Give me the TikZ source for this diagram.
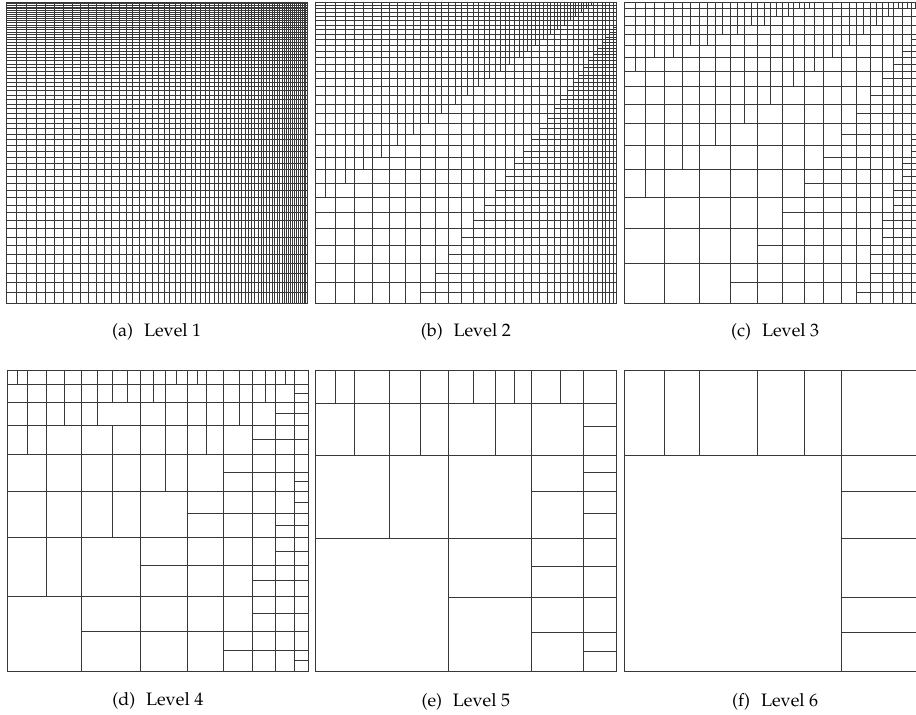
\documentclass[tikz,border=0pt]{standalone}
\usepackage[T1]{fontenc}
\usepackage{mathpazo}
\usetikzlibrary{positioning}

% graded 64x64 base mesh, cells shrink towards the top right corner
\newcommand{\rgrow}{0.97108}
\newcommand{\pside}{301}
\foreach \i in {0,...,64}{%
  \pgfmathsetmacro{\gval}{\pside*(1-\rgrow^\i)/(1-\rgrow^64)}%
  \expandafter\xdef\csname gx\i\endcsname{\gval}}
\newcommand{\mx}[1]{\csname gx#1\endcsname}
\newcommand{\vseg}[3]{\draw[mesh] (\mx{#1},\mx{#2}) -- (\mx{#1},\mx{#3});}
\newcommand{\hseg}[3]{\draw[mesh] (\mx{#2},\mx{#1}) -- (\mx{#3},\mx{#1});}
% full lines every #1 base cells
\newcommand{\blockgrid}[1]{\foreach \k in {0,#1,...,64}{\vseg{\k}{0}{64}\hseg{\k}{0}{64}}}
% splits inside blocks of size #1: vertical ones per block row, horizontal ones per block column
\newcommand{\vsplits}[2]{\foreach \J/\lst in {#2}{%
  \pgfmathtruncatemacro{\ja}{#1*\J}\pgfmathtruncatemacro{\jb}{#1*\J+#1}%
  \foreach \i in \lst {\vseg{\i}{\ja}{\jb}}}}
\newcommand{\hsplits}[2]{\foreach \I/\lst in {#2}{%
  \pgfmathtruncatemacro{\ia}{#1*\I}\pgfmathtruncatemacro{\ib}{#1*\I+#1}%
  \foreach \j in \lst {\hseg{\j}{\ia}{\ib}}}}

\begin{document}
\begin{tikzpicture}[
    x=1pt, y=1pt,
    mesh/.style={line width=0.75pt, draw=black!78, line cap=rect},
    captxt/.style={font=\fontsize{18}{22}\selectfont, inner sep=0pt, anchor=base}
]
    \path[use as bounding box, clip] (0,0) rectangle (916,715);

    % (a) level 1: the base mesh
    \begin{scope}[shift={(6.2,412)}]
        \blockgrid{1}
        \coordinate (pa) at (\pside/2,0);
    \end{scope}

    % (b) level 2
    \begin{scope}[shift={(315.3,412)}]
        \blockgrid{2}
        \foreach \n in {0,...,25}{%
            \pgfmathtruncatemacro{\i}{2*\n+1}\pgfmathtruncatemacro{\j}{2*\n+12}%
            \vseg{\i}{\j}{64}\hseg{\i}{\j}{64}}
        \coordinate (pb) at (\pside/2,0);
    \end{scope}

    % (c) level 3
    \begin{scope}[shift={(624.7,412)}]
        \blockgrid{4}
        \foreach \n in {0,...,14}{%
            \pgfmathtruncatemacro{\i}{4*\n+2}\pgfmathtruncatemacro{\j}{min(4*\n+12,60)}%
            \vseg{\i}{\j}{64}\hseg{\i}{\j}{64}}
        \foreach \n in {0,...,6}{%
            \pgfmathtruncatemacro{\i}{4*\n+1}\pgfmathtruncatemacro{\j}{4*\n+36}%
            \vseg{\i}{\j}{64}\hseg{\i}{\j}{64}}
        \foreach \n in {0,...,5}{%
            \pgfmathtruncatemacro{\i}{4*\n+3}\pgfmathtruncatemacro{\j}{4*\n+40}%
            \vseg{\i}{\j}{64}\hseg{\i}{\j}{64}}
        \coordinate (pc) at (\pside/2,0);
    \end{scope}

    % (d) level 4
    \begin{scope}[shift={(7.3,44)}]
        \blockgrid{8}
        \vsplits{8}{7/{1,2,4,6,10,12,14,18,20,22,26,28,36,44,52},
                    6/{2,4,6,10,12,14,18,20,28,36,44},
                    5/{2,4,6,10,20,28,36}, 4/{2,4,12,20,28},
                    3/{4,12,20}, 2/{4,12}, 1/{4}}
        \hsplits{8}{7/{1,2,4,6,10,12,14,18,20,22,26,28,36,44,52},
                    6/{2,4,6,10,12,14,18,20,28,36,44},
                    5/{2,4,6,10,12,20,28,36}, 4/{2,4,12,20,28},
                    3/{4,12,20}, 2/{4,12}, 1/{4}}
        \coordinate (pd) at (\pside/2,0);
    \end{scope}

    % (e) level 5
    \begin{scope}[shift={(315.3,43.5)}]
        \blockgrid{16}
        \vsplits{16}{3/{2,4,8,12,20,24,28,40}, 2/{4,8,12,24}, 1/{8}}
        \hsplits{16}{3/{2,4,8,12,20,24,28,40}, 2/{4,8,12,24}, 1/{8}}
        \coordinate (pe) at (\pside/2,0);
    \end{scope}

    % (f) level 6
    \begin{scope}[shift={(624.7,43.5)}]
        \blockgrid{32}
        \vsplits{32}{1/{4,8,16,24}}
        \hsplits{32}{1/{4,8,16,24}}
        \coordinate (pf) at (\pside/2,0);
    \end{scope}

    % captions
    \node[captxt, yshift=-34pt] (capa) at (pa) {(a)\hskip.6em Level 1};
    \node[captxt, yshift=-34pt] (capb) at (pb) {(b)\hskip.6em Level 2};
    \node[captxt, yshift=-34pt] (capc) at (pc) {(c)\hskip.6em Level 3};
    \node[captxt, yshift=-35pt] (capd) at (pd) {(d)\hskip.6em Level 4};
    \node[captxt, yshift=-35pt] (cape) at (pe) {(e)\hskip.6em Level 5};
    \node[captxt, yshift=-35pt] (capf) at (pf) {(f)\hskip.6em Level 6};
\end{tikzpicture}
\end{document}
